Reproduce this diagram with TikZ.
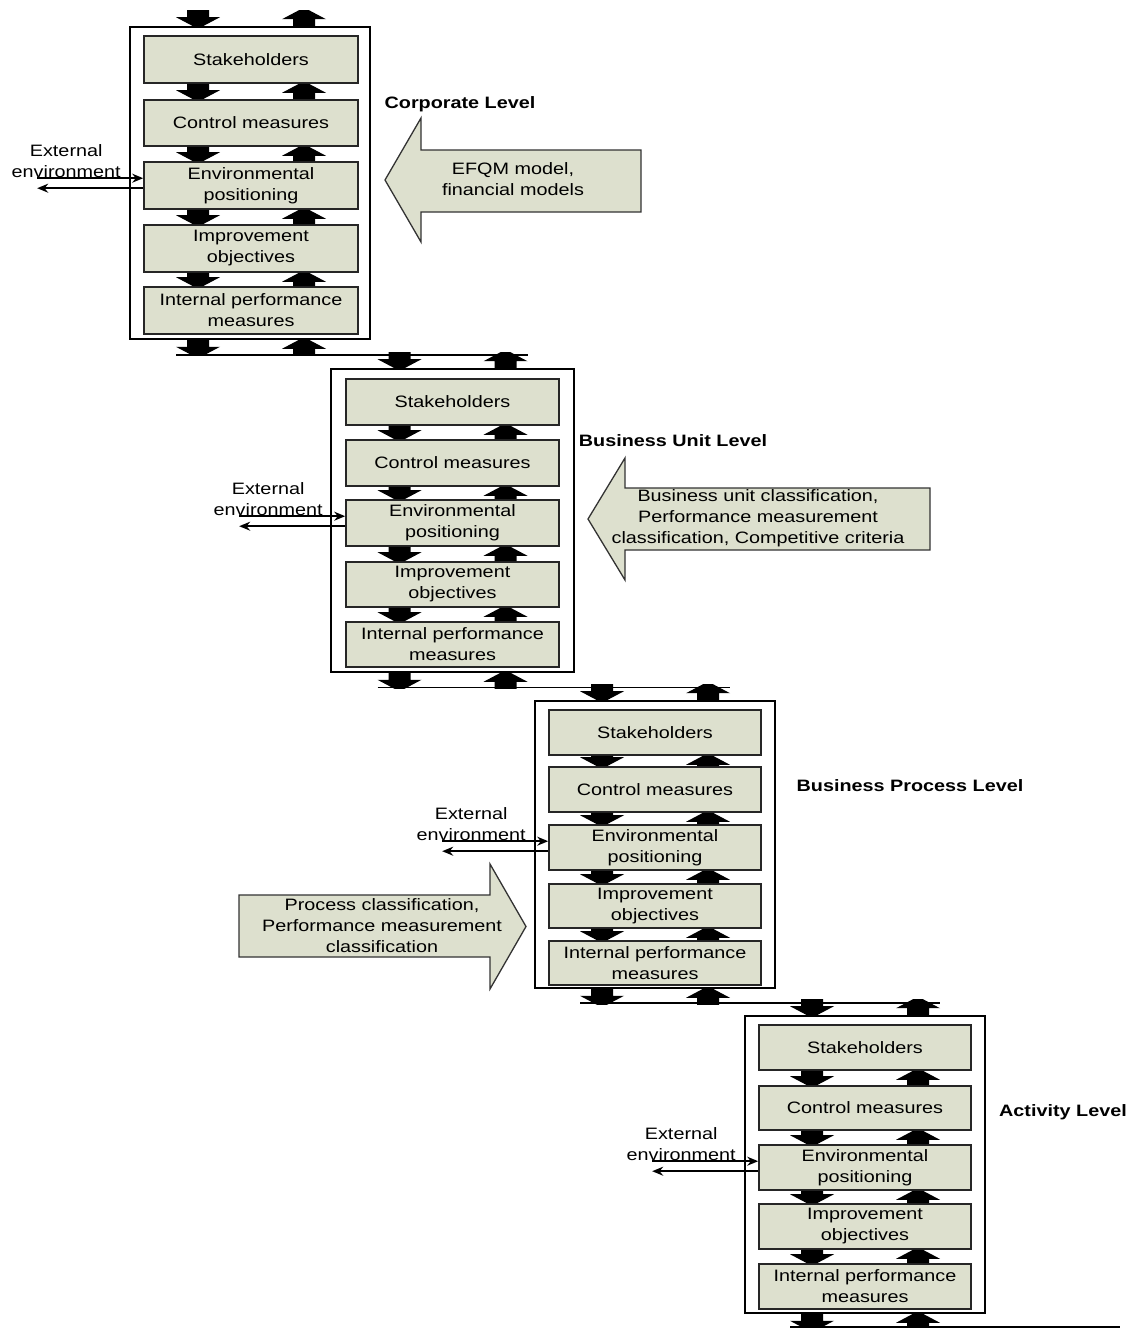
\documentclass[tikz,border=0pt]{standalone}
\usepackage{fontspec}
\setmainfont[FakeStretch=1.2]{Liberation Sans}
\usetikzlibrary{calc,arrows.meta}
\definecolor{boxfill}{RGB}{221,224,206}
\newcommand\blkdown[2]{%
  \fill[black] let \p1=(#1), \p2=(#2) in
  ({\x1-11pt},\y1) -- ({\x1+11pt},\y1) -- ({\x1+11pt},{\y2+9pt}) -- ({\x1+22pt},{\y2+9pt})
  -- ({\x1+5pt},\y2) -- ({\x1-5pt},\y2) -- ({\x1-22pt},{\y2+9pt}) -- ({\x1-11pt},{\y2+9pt}) -- cycle;}
\newcommand\blkup[2]{%
  \fill[black] let \p1=(#1), \p2=(#2) in
  ({\x2-11pt},\y2) -- ({\x2+11pt},\y2) -- ({\x2+11pt},{\y1-9pt}) -- ({\x2+22pt},{\y1-9pt})
  -- ({\x2+5pt},\y1) -- ({\x2-5pt},\y1) -- ({\x2-22pt},{\y1-9pt}) -- ({\x2-11pt},{\y1-9pt}) -- cycle;}
\newcommand\levelarrows[1]{%
  \foreach \a/\b in {s/c, c/e, e/i, i/p} {
    \blkdown{$(\a#1.south)+(-53,0)$}{$(\b#1.north)+(-53,0)$}
    \blkup{$(\a#1.south)+(53,0)$}{$(\b#1.north)+(53,0)$}
  }
  \blkdown{$(o#1.north -| s#1.north)+(-53,-16)$}{$(o#1.north -| s#1.north)+(-53,0)$}
  \blkup{$(o#1.north -| s#1.north)+(53,-16)$}{$(o#1.north -| s#1.north)+(53,0)$}
  \blkdown{$(o#1.south -| p#1.south)+(-53,0)$}{$(o#1.south -| p#1.south)+(-53,16)$}
  \blkup{$(o#1.south -| p#1.south)+(53,0)$}{$(o#1.south -| p#1.south)+(53,16)$}
}
\begin{document}
\begin{tikzpicture}[x=1pt,y=-1pt,
  every node/.style={font=\fontsize{16.5}{21}\selectfont},
  ibox/.style={draw=black!85, line width=1.6pt, fill=boxfill, inner sep=0pt, align=center},
  obox/.style={draw=black, line width=1.6pt, inner sep=0pt},
  lvl/.style={font=\fontsize{16.5}{21}\selectfont\bfseries, inner sep=0pt},
  txt/.style={align=center, inner sep=0pt},
  bigarrow/.style={draw=black!80, line width=1.3pt, fill=boxfill},
  link/.style={line width=1.6pt},
  extarrow/.style={line width=1.6pt, -{Stealth[length=11pt,width=9pt]}}]
\useasboundingbox (0,0) rectangle (1131,1328);

% ---------- Level 1 ----------
\node[obox, minimum width=240pt, minimum height=312pt] (o1) at (250,183) {};
\begin{scope}[every node/.append style={minimum width=214pt}]
\node[ibox, minimum height=47pt] (s1) at (251,59.5) {Stakeholders};
\node[ibox, minimum height=46pt] (c1) at (251,123) {Control measures};
\node[ibox, minimum height=47pt] (e1) at (251,185.5) {Environmental\\positioning};
\node[ibox, minimum height=47pt] (i1) at (251,248.5) {Improvement\\objectives};
\node[ibox, minimum height=47pt] (p1) at (251,310.5) {Internal performance\\measures};
\end{scope}
% ---------- Level 2 ----------
\node[obox, minimum width=243pt, minimum height=303pt] (o2) at (452.5,520.5) {};
\begin{scope}[every node/.append style={minimum width=213pt}]
\node[ibox, minimum height=46pt] (s2) at (452.5,402) {Stakeholders};
\node[ibox, minimum height=46pt] (c2) at (452.5,463) {Control measures};
\node[ibox, minimum height=46pt] (e2) at (452.5,523) {Environmental\\positioning};
\node[ibox, minimum height=45pt] (i2) at (452.5,584.5) {Improvement\\objectives};
\node[ibox, minimum height=45pt] (p2) at (452.5,644.5) {Internal performance\\measures};
\end{scope}
% ---------- Level 3 ----------
\node[obox, minimum width=240pt, minimum height=287pt] (o3) at (655,844.5) {};
\begin{scope}[every node/.append style={minimum width=212pt}]
\node[ibox, minimum height=45pt] (s3) at (655,732.5) {Stakeholders};
\node[ibox, minimum height=45pt] (c3) at (655,789.5) {Control measures};
\node[ibox, minimum height=45pt] (e3) at (655,847.5) {Environmental\\positioning};
\node[ibox, minimum height=44pt] (i3) at (655,906) {Improvement\\objectives};
\node[ibox, minimum height=44pt] (p3) at (655,963) {Internal performance\\measures};
\end{scope}
% ---------- Level 4 ----------
\node[obox, minimum width=240pt, minimum height=297pt] (o4) at (865,1164.5) {};
\begin{scope}[every node/.append style={minimum width=212pt}]
\node[ibox, minimum height=45pt] (s4) at (865,1047.5) {Stakeholders};
\node[ibox, minimum height=44pt] (c4) at (865,1108) {Control measures};
\node[ibox, minimum height=45pt] (e4) at (865,1167.5) {Environmental\\positioning};
\node[ibox, minimum height=45pt] (i4) at (865,1226.5) {Improvement\\objectives};
\node[ibox, minimum height=45pt] (p4) at (865,1286.5) {Internal performance\\measures};
\end{scope}

% ---------- block arrows ----------
\levelarrows{1}
\levelarrows{2}
\levelarrows{3}
\levelarrows{4}

% ---------- links between levels ----------
\coordinate (j1a) at ($(o1.south -| p1.south)+(-75,15)$);
\coordinate (j1b) at ($(o2.north -| s2.north)+(75,-15)$);
\draw[link] (j1a) -- (j1a -| j1b);
\coordinate (j2a) at ($(o2.south -| p2.south)+(-75,14.5)$);
\coordinate (j2b) at ($(o3.north -| s3.north)+(75,-14.5)$);
\draw[link] (j2a) -- (j2a -| j2b);
\coordinate (j3a) at ($(o3.south -| p3.south)+(-75,14)$);
\coordinate (j3b) at ($(o4.north -| s4.north)+(75,-14)$);
\draw[link] (j3a) -- (j3a -| j3b);
\coordinate (j4a) at ($(o4.south -| p4.south)+(-75,13)$);
\coordinate (j4b) at (1120,1326);
\draw[link] (j4a) -- (j4a -| j4b);

% ---------- external environment ----------
\foreach \k in {1,2,3,4} {
  \node[txt] (x\k) at ($(e\k.north west)+(-77,-0.5)$) {External\\environment};
  \coordinate (a\k) at ($(e\k.north west)+(-106,17)$);
  \coordinate (b\k) at ($(e\k.north west)+(-106,27)$);
  \draw[extarrow] (a\k) -- (a\k -| e\k.west);
  \draw[extarrow] (b\k -| e\k.west) -- (b\k);
}

% ---------- level labels ----------
\node[lvl] (L1) at (460,104) {Corporate Level};
\node[lvl] (L2) at (673,441) {Business Unit Level};
\node[lvl] (L3) at (910,786) {Business Process Level};
\node[lvl] (L4) at (1063,1112) {Activity Level};

% ---------- big arrows ----------
\draw[bigarrow] (385,180) -- (421,118) -- (421,150) -- (641,150) -- (641,212) -- (421,212) -- (421,242) -- cycle;
\node[txt] (m1) at (513,179.5) {EFQM model,\\financial models};

\draw[bigarrow] (588,519) -- (625,458) -- (625,488) -- (930,488) -- (930,550) -- (625,550) -- (625,580) -- cycle;
\node[txt] (m2) at (758,518.5) {Business unit classification,\\Performance measurement\\classification, Competitive criteria};

\draw[bigarrow] (239,895) -- (490,895) -- (490,864) -- (526,926.5) -- (490,989) -- (490,957) -- (239,957) -- cycle;
\node[txt] (m3) at (382,925.5) {Process classification,\\Performance measurement\\classification};
\end{tikzpicture}
\end{document}
